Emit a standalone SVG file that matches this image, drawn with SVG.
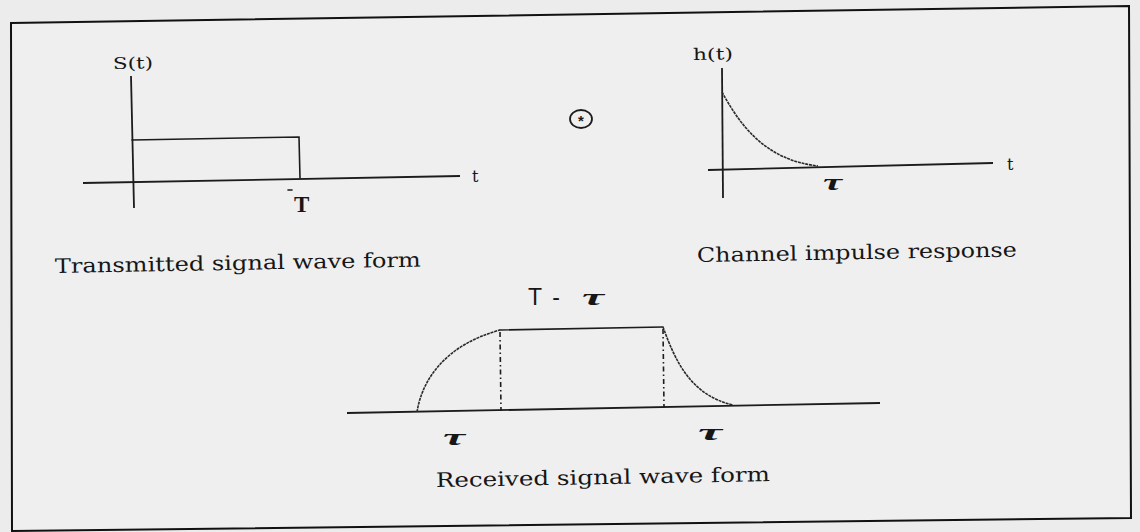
<svg xmlns="http://www.w3.org/2000/svg" width="1140" height="532" viewBox="0 0 1140 532">
  <style>
    .ln { fill: none; stroke: #1c1c1c; stroke-width: 1.6; stroke-linecap: round; }
    .axis { fill: none; stroke: #1c1c1c; stroke-width: 1.8; }
    .crv { fill: none; stroke: #2a2a2a; stroke-width: 1.6; stroke-dasharray: 3 0.8; }
    .dash { fill: none; stroke: #1c1c1c; stroke-width: 1.6; stroke-dasharray: 5 3 1.5 3; }
    .lbl { font-family: "DejaVu Serif", "Liberation Serif", serif; font-size: 20px; fill: #161616; }
    .ax { font-family: "DejaVu Serif", "Liberation Serif", serif; font-size: 16px; fill: #161616; }
    .tau { font-family: "Liberation Serif", "DejaVu Serif", serif; font-size: 24px; font-style: italic; font-weight: bold; fill: #161616; }
    .sans { font-family: "Liberation Sans", "DejaVu Sans", sans-serif; font-size: 23px; fill: #161616; }
  </style>
  <rect x="0" y="0" width="1140" height="532" fill="#ececec"/>

  <g id="frame">
    <polygon points="11,23 1129,6 1131,518 12,531" fill="#efefef" stroke="#111" stroke-width="2"/>
  </g>

  <g id="transmitted">
    <text class="ax" x="113" y="69" textLength="40" lengthAdjust="spacingAndGlyphs" transform="rotate(-1 113 69)">S(t)</text>
    <line class="axis" x1="131" y1="76" x2="134" y2="208"/>
    <polyline class="ln" points="132,140 299,137 300,178"/>
    <line class="axis" x1="83" y1="183" x2="460" y2="176"/>
    <text class="ax" x="472" y="182" font-size="17">t</text>
    <line class="ln" x1="288" y1="190" x2="292" y2="190"/>
    <text x="294" y="212" font-family="Liberation Serif, serif" font-weight="bold" font-size="23" fill="#161616">T</text>
    <text class="lbl" x="55" y="273" textLength="366" lengthAdjust="spacingAndGlyphs" transform="rotate(-1 55 273)">Transmitted signal wave form</text>
  </g>

  <g id="convolution">
    <ellipse cx="581" cy="119" rx="11" ry="9" fill="none" stroke="#1c1c1c" stroke-width="1.8"/>
    <text x="581" y="126" text-anchor="middle" font-family="Liberation Sans, sans-serif" font-size="15" font-weight="bold" fill="#1c1c1c">*</text>
  </g>

  <g id="channel">
    <text class="ax" x="693" y="60" textLength="40" lengthAdjust="spacingAndGlyphs" transform="rotate(-1 693 60)">h(t)</text>
    <line class="axis" x1="722" y1="68" x2="723" y2="198"/>
    <path class="crv" d="M722,92 C740,125 765,160 818,166"/>
    <line class="axis" x1="708" y1="170" x2="993" y2="163"/>
    <text class="ax" x="1007" y="170" font-size="17">t</text>
    <text class="tau" x="823" y="190" font-size="20" textLength="19" lengthAdjust="spacingAndGlyphs">τ</text>
    <text class="lbl" x="697" y="262" textLength="320" lengthAdjust="spacingAndGlyphs" transform="rotate(-1 697 262)">Channel impulse response</text>
  </g>

  <g id="received">
    <text class="sans" x="528" y="305"><tspan textLength="32" lengthAdjust="spacing">T-</tspan><tspan class="tau" x="582" y="305" font-size="26" textLength="22" lengthAdjust="spacingAndGlyphs">τ</tspan></text>
    <line class="axis" x1="347" y1="413" x2="880" y2="403"/>
    <path class="crv" d="M417,412 C422,380 445,345 500,330"/>
    <line class="ln" x1="500" y1="330" x2="663" y2="327"/>
    <path class="crv" d="M663,327 C675,360 690,395 733,405"/>
    <line class="dash" x1="500" y1="332" x2="501" y2="411"/>
    <line class="dash" x1="663" y1="329" x2="664" y2="407"/>
    <text class="tau" x="443" y="445" textLength="22" lengthAdjust="spacingAndGlyphs">τ</text>
    <text class="tau" x="698" y="440" textLength="24" lengthAdjust="spacingAndGlyphs">τ</text>
    <text class="lbl" x="436" y="487" textLength="334" lengthAdjust="spacingAndGlyphs" transform="rotate(-1 436 487)">Received signal wave form</text>
  </g>
</svg>
